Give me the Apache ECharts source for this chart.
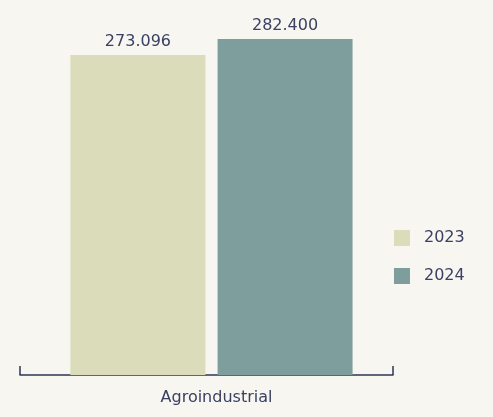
<!DOCTYPE html>
<html>
<head>
<meta charset="utf-8">
<script src="https://cdn.jsdelivr.net/npm/echarts@6/dist/echarts.min.js"></script>
<style>
html,body{margin:0;padding:0;background:#f7f6f0;}
#c{width:493px;height:417px;}
</style>
</head>
<body>
<div id="c"></div>
<script>
const categories = ['Agroindustrial'];
const seriesNames = ['2023', '2024'];
const values2023 = [273.096];
const values2024 = [282.400];
const labels2023 = ['273.096'];
const labels2024 = ['282.400'];

const textColor = '#3a4163';
const font = 'DejaVu Sans';
const chart = echarts.init(document.getElementById('c'));
chart.setOption({
  backgroundColor: '#f7f6f0',
  animation: false,
  textStyle: { fontFamily: font, color: textColor },
  grid: [
    { left: 20, right: 100, top: 39, bottom: 42 },
    { left: 25, right: 95, top: 39, bottom: 42 }
  ],
  legend: {
    orient: 'vertical', left: 394, top: 230, padding: 0,
    itemWidth: 16, itemHeight: 16, itemGap: 22,
    icon: 'rect',
    textStyle: { fontFamily: font, fontSize: 16, color: textColor, padding: [0, 0, 0, 9] },
    data: seriesNames
  },
  xAxis: [
    {
      type: 'category', data: categories, gridIndex: 0,
      axisLine: { show: true, lineStyle: { color: '#2f3654', width: 1.5 } },
      axisTick: { show: true, interval: 0, inside: true, length: 9, lineStyle: { color: '#2f3654', width: 1.5 } },
      axisLabel: { fontFamily: font, fontSize: 16, color: textColor, margin: 15, padding: [0, 0, 0, 20] }
    },
    { type: 'category', data: categories, gridIndex: 1, show: false }
  ],
  yAxis: [
    { type: 'value', gridIndex: 0, min: 87.6, max: 282.4, show: false, splitLine: { show: false } },
    { type: 'value', gridIndex: 1, min: 87.6, max: 282.4, show: false, splitLine: { show: false } }
  ],
  series: [
    { name: seriesNames[0], type: 'bar', xAxisIndex: 1, yAxisIndex: 1, data: values2023, barWidth: 135, barGap: '9%',
      itemStyle: { color: '#dbdcb9' },
      label: { show: true, position: 'top', distance: 5, fontFamily: font, fontSize: 16, color: textColor,
        formatter: p => labels2023[p.dataIndex] } },
    { name: seriesNames[1], type: 'bar', xAxisIndex: 1, yAxisIndex: 1, data: values2024, barWidth: 135,
      itemStyle: { color: '#7e9e9e' },
      label: { show: true, position: 'top', distance: 5, fontFamily: font, fontSize: 16, color: textColor,
        formatter: p => labels2024[p.dataIndex] } }
  ]
});
</script>
</body>
</html>
